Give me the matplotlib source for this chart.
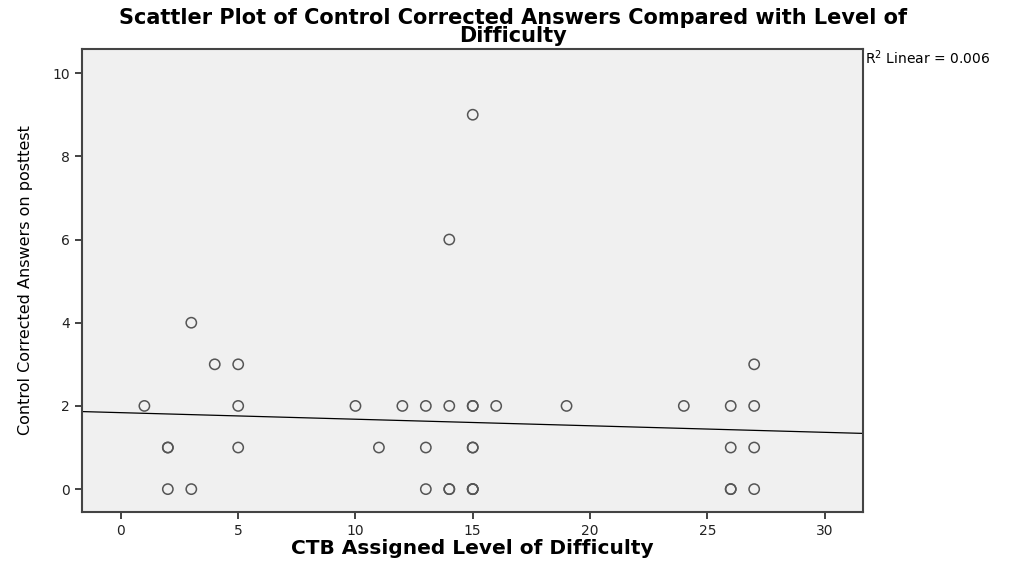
import numpy as np
import matplotlib.pyplot as plt

# Points (bold circles = repeated points)
difficulty = [15, 14, 3, 4, 5, 27,
              1, 5, 10, 12, 13, 14, 15, 15, 16, 19, 24, 26, 27,
              2, 2, 5, 11, 13, 15, 15, 26, 27,
              2, 3, 13, 14, 14, 15, 15, 15, 26, 26, 27]
answers = [9, 6, 4, 3, 3, 3,
           2, 2, 2, 2, 2, 2, 2, 2, 2, 2, 2, 2, 2,
           1, 1, 1, 1, 1, 1, 1, 1, 1,
           0, 0, 0, 0, 0, 0, 0, 0, 0, 0, 0]
x_ticks = [0, 5, 10, 15, 20, 25, 30]
y_ticks = [0, 2, 4, 6, 8, 10]

x = np.array(difficulty, dtype=float)
y = np.array(answers, dtype=float)
slope, intercept = np.polyfit(x, y, 1)

fig = plt.figure(figsize=(10.26, 5.65), dpi=100)
ax = fig.add_axes([82 / 1026, 1 - 512 / 565, (863 - 82) / 1026, (512 - 49) / 565])
ax.set_facecolor('#f0f0f0')

ax.scatter(x, y, s=55, facecolors='none', edgecolors='#555555', linewidths=1.1, zorder=3)

xlim = (-1.66, 31.64)
xs = np.array(xlim)
ax.plot(xs, intercept + slope * xs, color='black', linewidth=0.9, zorder=2)
ax.set_xlim(xlim)
ax.set_ylim(-0.55, 10.58)

ax.set_xticks(x_ticks)
ax.set_yticks(y_ticks)
ax.tick_params(labelsize=10, colors='#222222', length=5, width=1.2)
for s in ax.spines.values():
    s.set_color('#444444')
    s.set_linewidth(1.5)

ax.set_xlabel('CTB Assigned Level of Difficulty', fontsize=14.5, fontweight='bold', labelpad=1)
ax.set_ylabel('Control Corrected Answers on posttest', fontsize=11.5, labelpad=14)

fig.text(0.5, 0.985, 'Scattler Plot of Control Corrected Answers Compared with Level of\nDifficulty',
         ha='center', va='top', fontsize=15, fontweight='bold', linespacing=0.85)
fig.text(865 / 1026, 1 - 58 / 565, 'R$^2$ Linear = 0.006', fontsize=10, va='center')

fig.savefig('out.png', dpi=100)
